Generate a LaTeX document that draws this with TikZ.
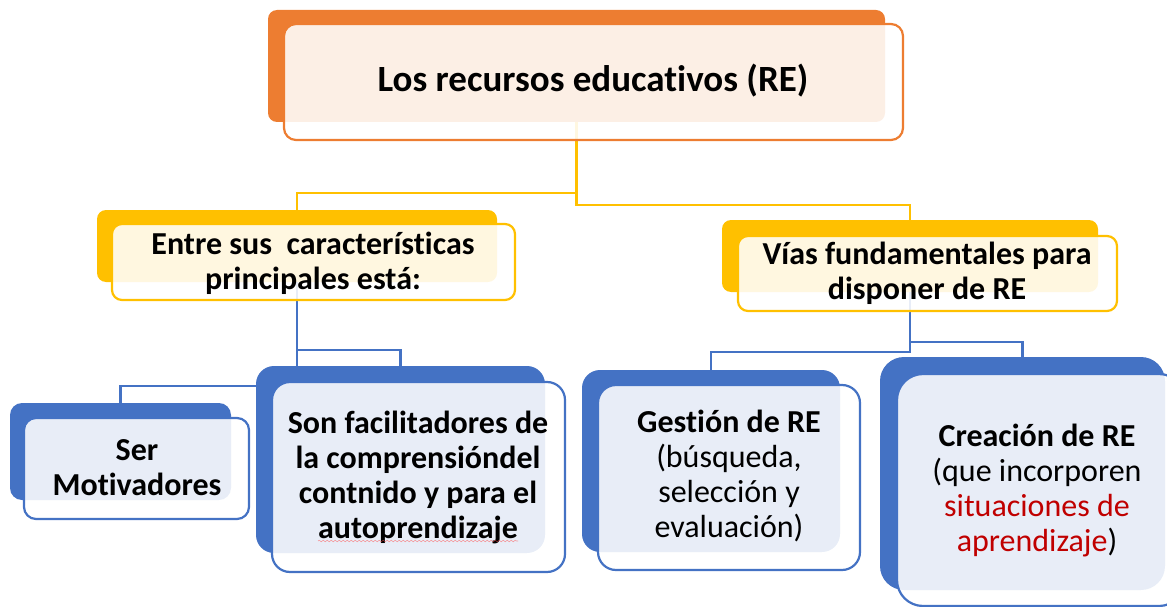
\documentclass[tikz,border=0pt]{standalone}
\usepackage{fontspec}
\setmainfont{Carlito}[Ligatures=NoCommon]
\usetikzlibrary{decorations.pathmorphing}
\definecolor{orng}{HTML}{ED7D31}
\definecolor{yllw}{HTML}{FFC000}
\definecolor{blu}{HTML}{4472C4}
\definecolor{redtxt}{HTML}{C00000}
\tikzset{
  back/.style={rectangle, inner sep=0pt, outer sep=0pt, rounded corners=#1},
  front/.style={rectangle, inner sep=0pt, outer sep=0pt, fill=white, fill opacity=0.88, line width=2.2pt, rounded corners=#1},
  lbl/.style={align=center, inner sep=0pt, text=black},
  big/.style={font=\bfseries\fontsize{37}{44}\selectfont},
  mid/.style={font=\fontsize{32}{35}\selectfont},
  midb/.style={font=\bfseries\fontsize{32}{35}\selectfont},
  conn/.style={line width=2.2pt},
}
\begin{document}
\begin{tikzpicture}[x=1pt,y=-1pt]
\useasboundingbox (0,0) rectangle (1167,607);
% back shapes
\node[back=9pt, fill=orng, minimum width=617pt, minimum height=112pt] (tops) at (576.5,66) {};
\node[back=9pt, fill=yllw, minimum width=400pt, minimum height=72pt] (ly) at (297,246) {};
\node[back=9pt, fill=yllw, minimum width=376pt, minimum height=72pt] (ry) at (910,256) {};
\node[back=12pt, fill=blu, minimum width=221pt, minimum height=97pt] (ser) at (120.5,451.5) {};
\node[back=18pt, fill=blu, minimum width=258pt, minimum height=182pt] (ges) at (711,461) {};
\node[back=24pt, fill=blu, minimum width=285pt, minimum height=233pt] (cre) at (1022.5,473.5) {};
\coordinate (sontop) at (400.5,366);
% connectors
\draw[conn, yllw] (tops.south) -- ++(0,71) -| (ly.north);
\draw[conn, yllw] (tops.south) -- ++(0,83) -| (ry.north);
\draw[conn, blu] (ly.south) -- ++(0,104) -| (ser.north);
\draw[conn, blu] (ly.south) -- ++(0,68) -| (sontop);
\draw[conn, blu] (ry.south) -- ++(0,60) -| (ges.north);
\draw[conn, blu] (ry.south) -- ++(0,50) -| (cre.north);
% back shape drawn over the connector to Ser
\node[back=18pt, fill=blu, minimum width=289pt, minimum height=187pt] (son) at (400.5,459.5) {};
% front shapes
\node[front=12pt, draw=orng, minimum width=619pt, minimum height=116pt] (topf) at (593.5,82) {};
\node[front=10pt, draw=yllw, minimum width=403pt, minimum height=76pt] (lyf) at (313.5,262) {};
\node[front=10pt, draw=yllw, minimum width=379pt, minimum height=75pt] (ryf) at (927.5,273.5) {};
\node[front=12pt, draw=blu, minimum width=225pt, minimum height=101pt] (serf) at (136.5,468.5) {};
\node[front=18pt, draw=blu, minimum width=293pt, minimum height=190pt] (sonf) at (418.5,477) {};
\node[front=18pt, draw=blu, minimum width=262pt, minimum height=185pt] (gesf) at (729,477.5) {};
\node[front=26pt, draw=blu, minimum width=288pt, minimum height=232pt] (cref) at (1041,490) {};
% texts
\node[lbl, big] (t0) at (593,81) {Los recursos educativos (RE)};
\node[lbl, midb] (t1) at (313,263) {Entre sus\ \ características\\principales está:};
\node[lbl, midb] (t2) at (927,273) {Vías fundamentales para\\disponer de RE};
\node[lbl, midb] (t3) at (137,468) {Ser\\Motivadores};
\node[lbl, midb] (t4) at (418,477) {Son facilitadores de\\la comprensióndel\\contnido y para el\\autoprendizaje};
\node[lbl, mid] (t5) at (729,476) {\textbf{Gestión de RE}\\(búsqueda,\\selección y\\evaluación)};
\node[lbl, mid] (t6) at (1037,491) {\textbf{Creación de RE}\\(que incorporen\\\textcolor{redtxt}{situaciones de}\\\textcolor{redtxt}{aprendizaje})};
\draw[red!70, opacity=0.5, line width=0.6pt, decorate, decoration={snake, segment length=4pt, amplitude=0.8pt}] (318,541) -- (518,541);
\end{tikzpicture}
\end{document}
